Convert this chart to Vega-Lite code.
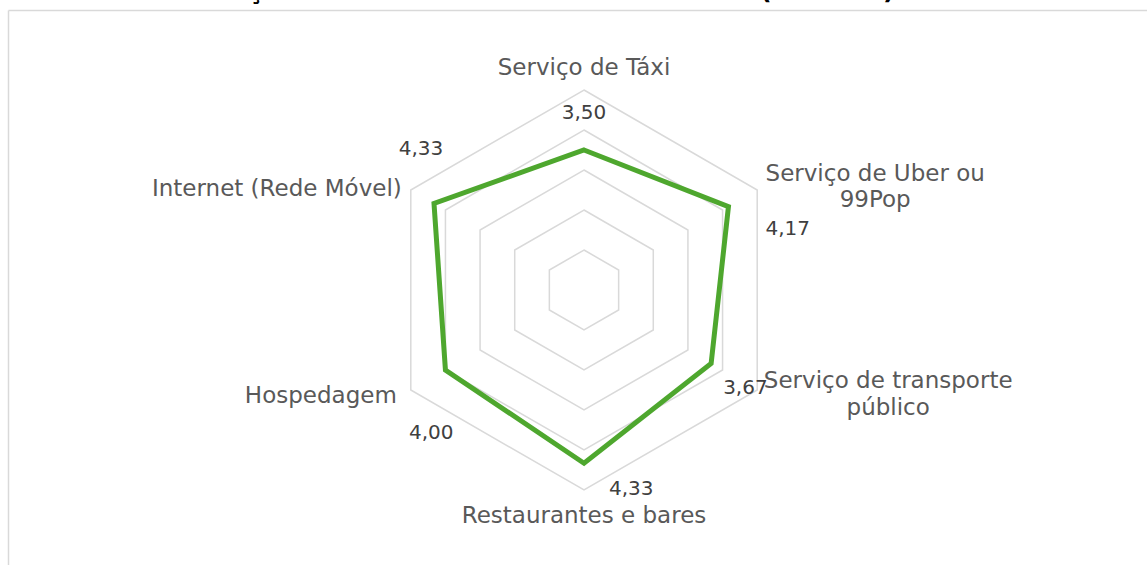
{
  "$schema": "https://vega.github.io/schema/vega-lite/v6.json",
  "width": 1139,
  "height": 555,
  "autosize": {"type": "none"},
  "padding": {"left": 8, "top": 10, "right": 0, "bottom": 0},
  "background": "white",
  "title": {
    "text": "Gráfico 1 – Serviços avaliados na cidade de Goiânia (turistas)",
    "anchor": "start",
    "frame": "group",
    "offset": 0,
    "baseline": "alphabetic",
    "dx": 7,
    "dy": 14,
    "font": "DejaVu Sans",
    "fontSize": 25.5,
    "fontWeight": "bold",
    "color": "#000000"
  },
  "config": {
    "view": {"stroke": null},
    "locale": {"number": {"decimal": ",", "thousands": ".", "grouping": [3], "currency": ["R$", ""]}},
    "text": {"font": "DejaVu Sans"}
  },
  "data": {
    "values": [
      {"i": 0, "servico": ["Serviço de Táxi"], "nota": 3.5, "niveis": [1, 2, 3, 4, 5]},
      {"i": 1, "servico": ["Serviço de Uber ou", "99Pop"], "nota": 4.17, "niveis": [1, 2, 3, 4, 5]},
      {"i": 2, "servico": ["Serviço de transporte", "público"], "nota": 3.67, "niveis": [1, 2, 3, 4, 5]},
      {"i": 3, "servico": ["Restaurantes e bares"], "nota": 4.33, "niveis": [1, 2, 3, 4, 5]},
      {"i": 4, "servico": ["Hospedagem"], "nota": 4.0, "niveis": [1, 2, 3, 4, 5]},
      {"i": 5, "servico": ["Internet (Rede Móvel)"], "nota": 4.33, "niveis": [1, 2, 3, 4, 5]}
    ]
  },
  "transform": [
    {"calculate": "datum.i * PI / 3", "as": "ang"},
    {"calculate": "datum.nota * sin(datum.ang)", "as": "X"},
    {"calculate": "datum.nota * cos(datum.ang)", "as": "Y"}
  ],
  "encoding": {
    "x": {
      "field": "X", "type": "quantitative",
      "scale": {"domain": [-14.4, 14.075], "nice": false, "zero": false},
      "axis": {"orient": "top", "domain": true, "domainColor": "#D9D9D9", "domainWidth": 1.5, "ticks": false, "labels": false, "grid": false, "title": null}
    },
    "y": {
      "field": "Y", "type": "quantitative",
      "scale": {"domain": [-6.875, 7], "nice": false, "zero": false},
      "axis": {"orient": "left", "domain": true, "domainColor": "#D9D9D9", "domainWidth": 1.5, "ticks": false, "labels": false, "grid": false, "title": null}
    }
  },
  "layer": [
    {
      "transform": [
        {"flatten": ["niveis"], "as": ["nivel"]},
        {"calculate": "datum.nivel * sin(datum.ang)", "as": "X"},
        {"calculate": "datum.nivel * cos(datum.ang)", "as": "Y"}
      ],
      "mark": {"type": "line", "interpolate": "linear-closed", "stroke": "#D9D9D9", "strokeWidth": 1.5},
      "encoding": {"detail": {"field": "nivel"}, "order": {"field": "i", "type": "quantitative"}}
    },
    {
      "mark": {"type": "line", "interpolate": "linear-closed", "stroke": "#4EA72E", "strokeWidth": 5, "strokeJoin": "miter"},
      "encoding": {"order": {"field": "i", "type": "quantitative"}}
    },
    {
      "transform": [{"filter": "datum.i == 0"}, {"calculate": "5 * sin(datum.ang)", "as": "X"}, {"calculate": "5 * cos(datum.ang)", "as": "Y"}],
      "mark": {"type": "text", "align": "center", "baseline": "alphabetic", "dx": 0, "dy": -15, "fontSize": 23, "color": "#595959"},
      "encoding": {"text": {"field": "servico"}}
    },
    {
      "transform": [{"filter": "datum.i == 1"}, {"calculate": "5 * sin(datum.ang)", "as": "X"}, {"calculate": "5 * cos(datum.ang)", "as": "Y"}],
      "mark": {"type": "text", "align": "center", "baseline": "alphabetic", "dx": 118, "dy": -9, "lineHeight": 26, "fontSize": 23, "color": "#595959"},
      "encoding": {"text": {"field": "servico"}}
    },
    {
      "transform": [{"filter": "datum.i == 2"}, {"calculate": "5 * sin(datum.ang)", "as": "X"}, {"calculate": "5 * cos(datum.ang)", "as": "Y"}],
      "mark": {"type": "text", "align": "center", "baseline": "alphabetic", "dx": 131, "dy": -2, "lineHeight": 27, "fontSize": 23, "color": "#595959"},
      "encoding": {"text": {"field": "servico"}}
    },
    {
      "transform": [{"filter": "datum.i == 3"}, {"calculate": "5 * sin(datum.ang)", "as": "X"}, {"calculate": "5 * cos(datum.ang)", "as": "Y"}],
      "mark": {"type": "text", "align": "center", "baseline": "alphabetic", "dx": 0, "dy": 33, "fontSize": 23, "color": "#595959"},
      "encoding": {"text": {"field": "servico"}}
    },
    {
      "transform": [{"filter": "datum.i == 4"}, {"calculate": "5 * sin(datum.ang)", "as": "X"}, {"calculate": "5 * cos(datum.ang)", "as": "Y"}],
      "mark": {"type": "text", "align": "right", "baseline": "alphabetic", "dx": -14, "dy": 13, "fontSize": 23, "color": "#595959"},
      "encoding": {"text": {"field": "servico"}}
    },
    {
      "transform": [{"filter": "datum.i == 5"}, {"calculate": "5 * sin(datum.ang)", "as": "X"}, {"calculate": "5 * cos(datum.ang)", "as": "Y"}],
      "mark": {"type": "text", "align": "right", "baseline": "alphabetic", "dx": -9, "dy": 6, "fontSize": 23, "color": "#595959"},
      "encoding": {"text": {"field": "servico"}}
    },
    {
      "transform": [{"filter": "datum.i == 0"}],
      "mark": {"type": "text", "align": "center", "baseline": "alphabetic", "dx": 0, "dy": -31, "fontSize": 20, "color": "#404040"},
      "encoding": {"text": {"field": "nota", "type": "quantitative", "format": ".2f"}}
    },
    {
      "transform": [{"filter": "datum.i == 1"}],
      "mark": {"type": "text", "align": "left", "baseline": "alphabetic", "dx": 37, "dy": 28, "fontSize": 20, "color": "#404040"},
      "encoding": {"text": {"field": "nota", "type": "quantitative", "format": ".2f"}}
    },
    {
      "transform": [{"filter": "datum.i == 2"}],
      "mark": {"type": "text", "align": "left", "baseline": "alphabetic", "dx": 12, "dy": 31, "fontSize": 20, "color": "#404040"},
      "encoding": {"text": {"field": "nota", "type": "quantitative", "format": ".2f"}}
    },
    {
      "transform": [{"filter": "datum.i == 3"}],
      "mark": {"type": "text", "align": "left", "baseline": "alphabetic", "dx": 25, "dy": 32, "fontSize": 20, "color": "#404040"},
      "encoding": {"text": {"field": "nota", "type": "quantitative", "format": ".2f"}}
    },
    {
      "transform": [{"filter": "datum.i == 4"}],
      "mark": {"type": "text", "align": "right", "baseline": "alphabetic", "dx": 8, "dy": 69, "fontSize": 20, "color": "#404040"},
      "encoding": {"text": {"field": "nota", "type": "quantitative", "format": ".2f"}}
    },
    {
      "transform": [{"filter": "datum.i == 5"}],
      "mark": {"type": "text", "align": "center", "baseline": "alphabetic", "dx": -13, "dy": -48, "fontSize": 20, "color": "#404040"},
      "encoding": {"text": {"field": "nota", "type": "quantitative", "format": ".2f"}}
    }
  ]
}
